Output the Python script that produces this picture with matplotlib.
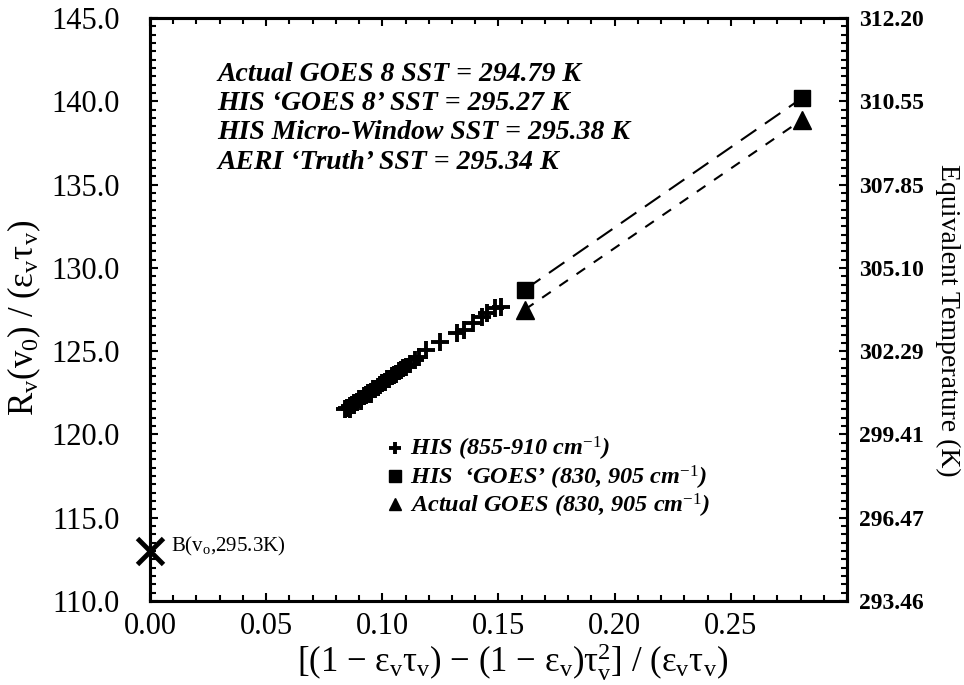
import matplotlib
matplotlib.use("Agg")
import matplotlib.pyplot as plt
from matplotlib.ticker import MultipleLocator

plt.rcParams["font.family"] = "Liberation Serif"
plt.rcParams["mathtext.fontset"] = "custom"
plt.rcParams["mathtext.rm"] = "Liberation Serif"
plt.rcParams["mathtext.it"] = "Liberation Serif:italic"
plt.rcParams["mathtext.bf"] = "Liberation Serif:bold"

# HIS micro-window points (855-910 cm-1)
his_x = [0.084, 0.085, 0.086, 0.086, 0.087, 0.088, 0.088, 0.089, 0.090, 0.091,
         0.091, 0.092, 0.093, 0.094, 0.095, 0.095, 0.096, 0.097, 0.098, 0.099,
         0.100, 0.101, 0.102, 0.103, 0.104, 0.105, 0.106, 0.107, 0.108, 0.109,
         0.110, 0.112, 0.114, 0.116, 0.119, 0.125, 0.132, 0.135, 0.139, 0.143,
         0.145, 0.1485, 0.151]
his_y = [121.5, 121.6, 121.7, 121.5, 121.75, 121.9, 121.75, 121.95, 122.1, 122.15,
         122.0, 122.3, 122.35, 122.5, 122.55, 122.4, 122.7, 122.75, 122.85, 122.95,
         123.1, 123.15, 123.3, 123.35, 123.5, 123.55, 123.65, 123.8, 123.85, 124.0,
         124.05, 124.25, 124.45, 124.65, 125.07, 125.57, 126.07, 126.27, 126.67, 127.07,
         127.27, 127.57, 127.67]

# HIS 'GOES' and actual GOES (830, 905 cm-1)
goes_x = [0.1614, 0.2807]
his_goes_y = [128.7, 140.2]
act_goes_y = [127.5, 138.9]

# Planck radiance at 295.3 K
b_x = [0.0]
b_y = [113.0]

yticks = [110, 115, 120, 125, 130, 135, 140, 145]
temp_labels = ["293.46", "296.47", "299.41", "302.29", "305.10", "307.85", "310.55", "312.20"]

sst_lines = [
    "Actual GOES 8 SST = 294.79 K",
    "HIS \u2018GOES 8\u2019 SST = 295.27 K",
    "HIS Micro-Window SST = 295.38 K",
    "AERI \u2018Truth\u2019 SST = 295.34 K",
]

fig = plt.figure(figsize=(9.64, 6.85), dpi=100)
ax = fig.add_axes([0.1556, 0.1226, 0.7230, 0.8511])

ax.plot(goes_x, his_goes_y, color="black", lw=1.5, ls=(0, (9, 5)), zorder=2)
ax.plot(goes_x, act_goes_y, color="black", lw=1.5, ls=(0, (5, 5)), zorder=2)
ax.plot(his_x, his_y, ls="none", marker="+", ms=13, mew=2.8, color="black",
        label="HIS (855-910 cm$^{-1}$)", zorder=3)
ax.plot(goes_x, his_goes_y, ls="none", marker="s", ms=12, color="black",
        label="HIS  \u2018GOES\u2019 (830, 905 cm$^{-1}$)", zorder=3)
ax.plot(goes_x, act_goes_y, ls="none", marker="^", ms=13, color="black",
        label="Actual GOES (830, 905 cm$^{-1}$)", zorder=3)
ax.plot(b_x, b_y, ls="none", marker="x", ms=19, mew=3.5, color="black",
        clip_on=False, zorder=4)
ax.text(0.009, 113.3, "B(v$_\\mathrm{o}$,295.3K)", fontsize=15, va="center")

ax.set_xlim(0, 0.30)
ax.set_ylim(110, 145)
ax.set_xticks([0.00, 0.05, 0.10, 0.15, 0.20, 0.25])
ax.set_xticklabels(["0.00", "0.05", "0.10", "0.15", "0.20", "0.25"])
ax.set_yticks(yticks)
ax.set_yticklabels([f"{v:.1f}" for v in yticks])
ax.xaxis.set_minor_locator(MultipleLocator(0.01))
ax.yaxis.set_minor_locator(MultipleLocator(0.5))
ax.tick_params(which="both", direction="in", top=True, right=False, width=1.5,
               labelsize=22)
ax.tick_params(which="major", length=6)
ax.tick_params(which="minor", length=4)
ax.tick_params(axis="y", which="major", pad=22)
ax.tick_params(axis="x", which="major", pad=8)
for s in ax.spines.values():
    s.set_linewidth(2.2)

ax.set_xlabel("[(1 \u2212 \u03b5$_\\mathrm{v}$\u03c4$_\\mathrm{v}$) \u2212 (1 \u2212 \u03b5$_\\mathrm{v}$)"
              "$\\mathrm{\u03c4}_\\mathrm{v}^\\mathrm{2}$] / (\u03b5$_\\mathrm{v}$\u03c4$_\\mathrm{v}$)",
              fontsize=25, va="center")
ax.xaxis.set_label_coords(0.52, -0.105)
ax.set_ylabel("R$_\\mathrm{v}$(v$_\\mathrm{0}$) / (\u03b5$_\\mathrm{v}$\u03c4$_\\mathrm{v}$)",
              fontsize=25, ha="center", va="center")
ax.yaxis.set_label_coords(-0.181, 0.485)

ax2 = ax.twinx()
ax2.set_ylim(110, 145)
ax2.set_yticks(yticks)
ax2.set_yticklabels(temp_labels, fontweight="bold")
ax2.yaxis.set_minor_locator(MultipleLocator(0.5))
ax2.tick_params(which="both", direction="in", width=1.5, labelsize=17)
ax2.tick_params(which="major", length=6, pad=9)
ax2.tick_params(which="minor", length=4)
for s in ax2.spines.values():
    s.set_linewidth(2.2)
ax2.set_ylabel("Equivalent Temperature (K)", rotation=270, fontsize=20,
               ha="center", va="center")
ax2.yaxis.set_label_coords(1.145, 0.482)

for i, line in enumerate(sst_lines):
    ax.text(0.029, 141.6 - i * 1.75, line, fontsize=20, fontweight="bold",
            fontstyle="italic", va="center")

leg = ax.legend(loc="upper left", bbox_to_anchor=(0.324, 0.305), frameon=False,
                handlelength=0.6, handletextpad=0.3, labelspacing=0.0,
                borderpad=0, prop={"family": "Liberation Serif", "weight": "bold",
                                   "style": "italic", "size": 17.5})
for h in leg.legend_handles:
    h.set_markersize(9)

fig.savefig("out.png", dpi=100)
